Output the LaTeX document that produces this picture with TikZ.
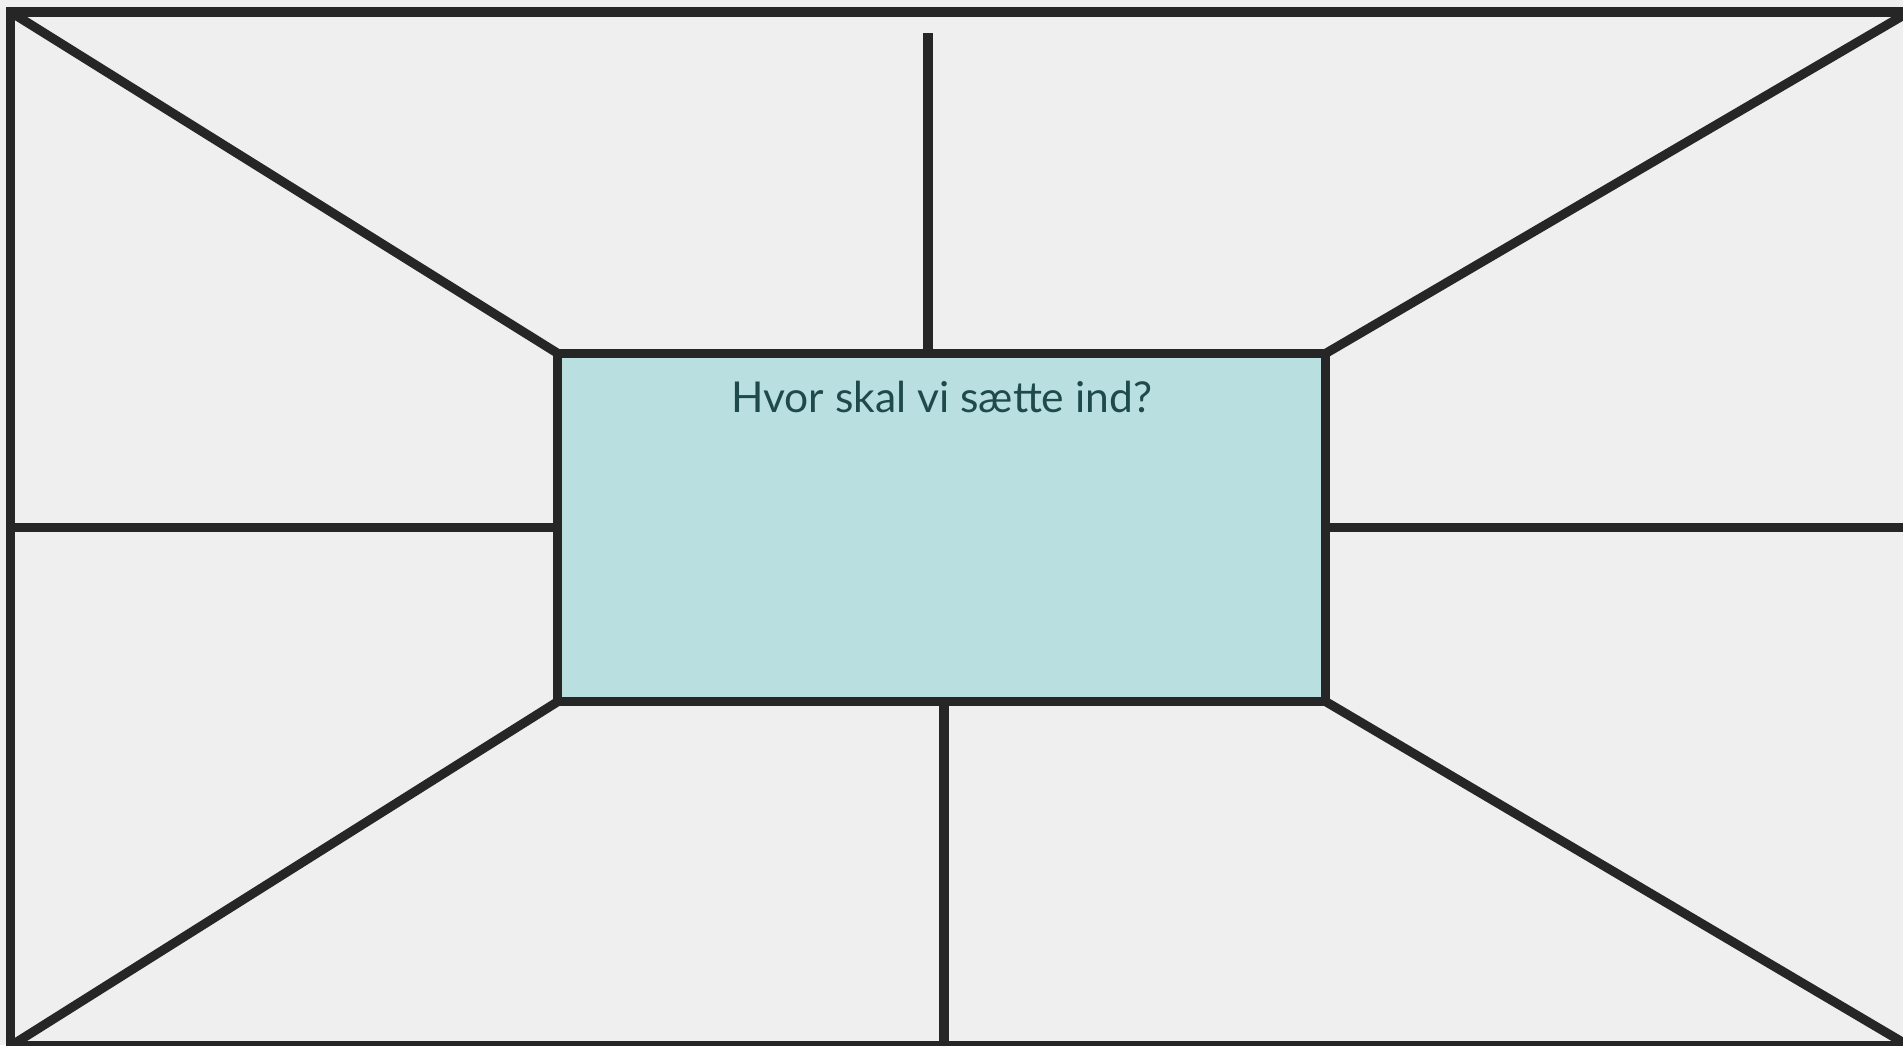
\documentclass[tikz,border=0pt]{standalone}
\usepackage{fontspec}
\setmainfont{Lato}
\usepackage{tikz}
\usetikzlibrary{positioning,calc}
\definecolor{PaperGray}{HTML}{EFEFEF}
\definecolor{LineDark}{HTML}{262626}
\definecolor{BoxTeal}{HTML}{B9DFE0}
\definecolor{TextTeal}{HTML}{1F4A4B}

\begin{document}
\begin{tikzpicture}[
    x=0.01cm, y=-0.01cm,
    line/.style={draw=LineDark, line width=2.6pt},
    focusbox/.style={rectangle, draw=LineDark, fill=BoxTeal, line width=2.6pt, minimum width=7.675cm, minimum height=3.48cm, inner sep=0pt, outer sep=0pt},
    question/.style={text=TextTeal, font=\fontsize{12.1}{14}\selectfont, inner sep=0pt}
]
\fill[PaperGray] (0,0) rectangle (1903,1045);
\useasboundingbox (0,0) rectangle (1903,1045);

% outer frame, cut at the right and bottom edge
\coordinate (tl) at (10.5,12);
\coordinate (tr) at (1909,12);
\coordinate (bl) at (10.5,1046);
\coordinate (br) at (1909,1046);
\draw[line, line join=miter] (tl) rectangle (br);

\node[focusbox] (focus) at (941.75,527.5) {};
\node[question, anchor=base] (q) at ([yshift=-0.59cm]focus.north) {Hvor skal vi sætte ind?};

% corner spokes
\draw[line] (tl) -- (focus.north west);
\draw[line] (tr) -- (focus.north east);
\draw[line] (bl) -- (focus.south west);
\draw[line] (br) -- (focus.south east);

% side spokes
\draw[line] (tl |- focus.west) -- (focus.west);
\draw[line] (focus.east) -- (tr |- focus.east);

% top and bottom spokes
\coordinate (topstub) at (928,33);
\coordinate (botstub) at (944,1046);
\draw[line] (topstub) -- (topstub |- focus.north);
\draw[line] (focus.south -| botstub) -- (botstub);
\end{tikzpicture}
\end{document}
